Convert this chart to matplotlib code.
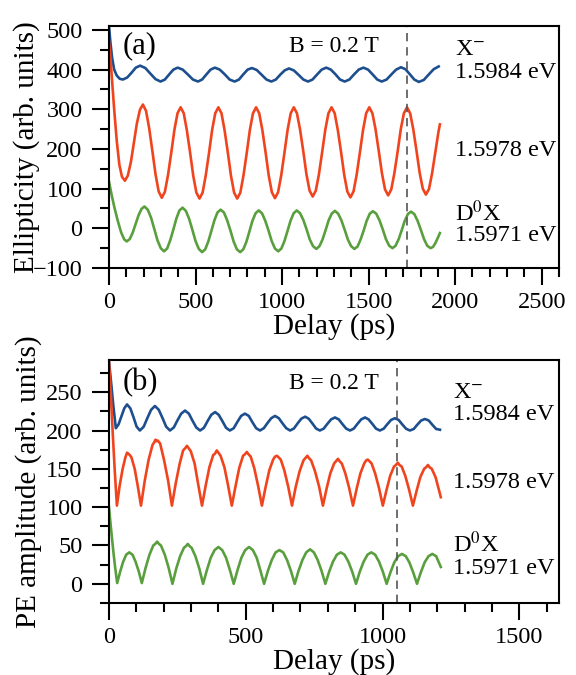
import numpy as np
import matplotlib
matplotlib.use("Agg")
import matplotlib.pyplot as plt
from matplotlib.ticker import MultipleLocator

plt.rcParams['font.family'] = ['Liberation Serif', 'DejaVu Serif']
plt.rcParams['mathtext.fontset'] = 'stix'

# ---- (a) ellipticity traces: (delay ps, signal) ----
a_trion = [(0, 510), (8, 470), (18, 430), (30, 400), (45, 385), (62, 377), (80, 375),
           (105, 380), (130, 392), (155, 405), (180, 410),
           (210, 404), (239, 390), (269, 376), (298, 370),
           (323, 375), (348, 388), (372, 400), (397, 405),
           (426, 400), (455, 388), (485, 375), (514, 370),
           (538, 375), (563, 388), (587, 400), (612, 405),
           (640, 400), (669, 388), (697, 375), (726, 370),
           (751, 375), (776, 388), (801, 400), (826, 404),
           (854, 399), (882, 387), (910, 375), (938, 370),
           (964, 375), (989, 387), (1015, 398), (1040, 403),
           (1068, 398), (1095, 387), (1123, 375), (1150, 370),
           (1176, 375), (1203, 388), (1229, 400), (1255, 405),
           (1282, 400), (1309, 388), (1335, 375), (1362, 370),
           (1389, 375), (1416, 388), (1443, 400), (1470, 405),
           (1497, 400), (1523, 388), (1550, 375), (1576, 370),
           (1604, 375), (1632, 388), (1659, 400), (1687, 406),
           (1713, 401), (1739, 388), (1764, 375), (1790, 369),
           (1819, 374), (1848, 388), (1876, 401), (1905, 408)]

a_mid = [(0, 470), (10, 420), (20, 360), (30, 300), (45, 220), (60, 160), (75, 130), (92, 120),
         (109, 133), (127, 168), (144, 216), (161, 264), (179, 299), (196, 312),
         (214, 296), (232, 253), (251, 194), (269, 136), (287, 93), (305, 77),
         (323, 92), (341, 134), (360, 191), (378, 248), (396, 290), (414, 305),
         (432, 290), (450, 247), (469, 190), (487, 132), (505, 90), (523, 75),
         (541, 90), (559, 133), (578, 190), (596, 248), (614, 290), (632, 305),
         (650, 290), (668, 247), (687, 190), (705, 132), (723, 90), (741, 75),
         (759, 90), (777, 133), (796, 190), (814, 248), (832, 290), (850, 305),
         (868, 290), (886, 248), (905, 191), (923, 133), (941, 91), (959, 76),
         (977, 91), (995, 133), (1014, 191), (1032, 248), (1050, 290), (1068, 305),
         (1086, 290), (1104, 249), (1123, 193), (1141, 136), (1159, 95), (1177, 80),
         (1195, 95), (1213, 136), (1232, 193), (1250, 249), (1268, 290), (1286, 305),
         (1304, 290), (1322, 248), (1341, 192), (1359, 135), (1377, 93), (1395, 78),
         (1413, 93), (1431, 135), (1450, 192), (1468, 248), (1486, 290), (1504, 305),
         (1522, 290), (1540, 250), (1559, 194), (1577, 139), (1595, 98), (1613, 83),
         (1631, 98), (1649, 139), (1668, 194), (1686, 250), (1704, 290), (1722, 305),
         (1740, 290), (1758, 250), (1777, 195), (1795, 140), (1813, 100), (1831, 85),
         (1849, 99), (1867, 139), (1886, 193), (1904, 244), (1912, 262)]

a_donor = [(0, 118), (15, 85), (30, 55), (50, 20), (70, -10), (88, -28), (103, -33),
           (120, -27), (137, -11), (154, 11), (171, 33), (188, 49), (205, 55),
           (224, 47), (243, 27), (262, -2), (280, -30), (299, -50), (318, -58),
           (336, -51), (354, -30), (372, -3), (389, 24), (407, 45), (425, 52),
           (444, 44), (463, 24), (482, -4), (500, -32), (519, -52), (538, -60),
           (556, -53), (574, -33), (592, -6), (609, 20), (627, 40), (645, 47),
           (664, 40), (683, 20), (702, -6), (720, -33), (739, -53), (758, -60),
           (776, -53), (794, -34), (812, -7), (829, 19), (847, 38), (865, 45),
           (884, 38), (903, 19), (922, -6), (940, -32), (959, -51), (978, -58),
           (996, -51), (1014, -32), (1032, -6), (1049, 19), (1067, 38), (1085, 45),
           (1104, 38), (1123, 21), (1142, -3), (1160, -28), (1179, -45), (1198, -52),
           (1216, -45), (1234, -28), (1252, -4), (1269, 20), (1287, 37), (1305, 44),
           (1324, 37), (1343, 20), (1362, -4), (1380, -28), (1399, -45), (1418, -52),
           (1436, -46), (1454, -28), (1472, -5), (1489, 19), (1507, 37), (1525, 43),
           (1544, 37), (1563, 20), (1582, -3), (1600, -27), (1619, -44), (1638, -50),
           (1656, -44), (1674, -27), (1692, -4), (1709, 19), (1727, 36), (1745, 42),
           (1764, 36), (1783, 19), (1802, -4), (1820, -27), (1839, -44), (1858, -50),
           (1872, -47), (1885, -38), (1898, -26), (1912, -12)]

# ---- (b) photon echo amplitude traces ----
b_trion = [(0, 290), (8, 262), (16, 232), (25, 203),
           (35, 208), (45, 218), (56, 229), (66, 234),
           (78, 229), (90, 217), (101, 205), (113, 200),
           (127, 205), (140, 216), (154, 227), (168, 232),
           (182, 227), (196, 216), (209, 205), (223, 200),
           (237, 204), (250, 213), (264, 222), (278, 226),
           (292, 222), (305, 213), (319, 204), (333, 200),
           (347, 203.5), (360, 212), (374, 220.5), (388, 224),
           (401, 220.5), (415, 212), (428, 203.5), (442, 200),
           (456, 203), (469, 211), (483, 219), (497, 222),
           (511, 219), (524, 211), (538, 203), (552, 200),
           (566, 203), (579, 209.5), (593, 216), (607, 219),
           (621, 216), (634, 209.5), (648, 203), (662, 200),
           (676, 202.6), (689, 209), (703, 215.4), (717, 218),
           (730, 215.4), (744, 209), (757, 202.6), (771, 200),
           (785, 202.5), (798, 208.5), (812, 214.5), (826, 217),
           (840, 214.5), (853, 208.5), (867, 202.5), (881, 200),
           (895, 202.5), (908, 208.5), (922, 214.5), (936, 217),
           (949, 214.5), (963, 208.5), (976, 202.5), (990, 200),
           (1004, 202.3), (1017, 208), (1031, 213.7), (1045, 216),
           (1059, 213.7), (1072, 208), (1086, 202.3), (1100, 200),
           (1114, 202), (1127, 207.5), (1141, 213), (1155, 215),
           (1169, 213), (1182, 207.5), (1196, 202), (1210, 201)]

b_mid = [(0, 290), (7, 245), (14, 195), (21, 148), (29, 102),
         (39, 128), (50, 150), (60, 165), (66, 171), (70, 170),
         (76, 168), (82, 165), (94, 150), (105, 128), (117, 102),
         (131, 135), (145, 162), (159, 181), (166, 185), (170, 188), (173, 186),
         (178, 187), (187, 183), (201, 162), (216, 135), (230, 102),
         (244, 131), (258, 156), (271, 174), (279, 177), (285, 180),
         (291, 177), (299, 173), (313, 157), (326, 130), (340, 102),
         (354, 129), (367, 152), (381, 168), (388, 170), (394, 174),
         (400, 171), (408, 167), (422, 152), (435, 129), (449, 102),
         (463, 128), (476, 151), (490, 167), (497, 169), (504, 172),
         (510, 169), (518, 166), (531, 151), (545, 128), (559, 102),
         (573, 127), (586, 148), (600, 162), (607, 166), (614, 167),
         (620, 165), (628, 162), (641, 148), (655, 127), (669, 102),
         (683, 127), (697, 147), (711, 161), (718, 164), (725, 167),
         (731, 164), (739, 161), (753, 147), (768, 127), (782, 102),
         (796, 125), (809, 144), (823, 157), (830, 160), (837, 163),
         (843, 160), (851, 157), (864, 144), (878, 125), (892, 102),
         (906, 125), (919, 144), (933, 157), (940, 161), (946, 162),
         (952, 160), (960, 157), (973, 144), (987, 125), (1001, 102),
         (1015, 123), (1028, 141), (1042, 153), (1049, 155), (1056, 158),
         (1062, 155), (1070, 153), (1083, 141), (1097, 123), (1111, 102),
         (1125, 122), (1138, 139), (1152, 150), (1159, 152), (1166, 155),
         (1172, 152), (1180, 150), (1194, 139), (1213, 113)]

b_donor = [(0, 100), (8, 70), (16, 42), (23, 20), (30, 1),
           (41, 16), (52, 29), (63, 38), (74, 41),
           (86, 38), (97, 29), (109, 16), (120, 1),
           (134, 21), (148, 38), (162, 50), (169, 52), (176, 55),
           (183, 52), (190, 50), (204, 38), (218, 21), (232, 0),
           (246, 20), (260, 36), (274, 47), (281, 49), (288, 52),
           (295, 49), (302, 47), (316, 36), (330, 20), (344, 0),
           (358, 18), (372, 34), (386, 44), (393, 46), (400, 48),
           (407, 46), (414, 44), (428, 34), (442, 18), (456, 0),
           (470, 18), (484, 34), (498, 44), (505, 46), (512, 48),
           (519, 46), (526, 44), (540, 34), (553, 18), (567, 0),
           (581, 17), (595, 31), (609, 41), (623, 44),
           (637, 41), (651, 31), (665, 17), (679, 0),
           (693, 17), (707, 31), (721, 41), (728, 43), (735, 45),
           (742, 43), (749, 41), (763, 31), (777, 17), (791, 0),
           (805, 16), (819, 29), (833, 38), (847, 41),
           (861, 38), (875, 29), (889, 16), (903, 0),
           (917, 16), (931, 29), (945, 38), (959, 41),
           (973, 38), (987, 29), (1001, 16), (1015, 0),
           (1029, 15), (1043, 28), (1057, 36), (1071, 39),
           (1085, 36), (1098, 28), (1112, 15), (1126, 0),
           (1140, 15), (1154, 28), (1168, 36), (1182, 39),
           (1196, 36), (1213, 22)]

blue = '#1d4f8f'
red = '#f0441f'
green = '#5a9f3e'

fig = plt.figure(figsize=(5.76, 6.75), dpi=100)
ax_a = fig.add_axes([0.1892, 0.6030, 0.78125, 0.3585])
ax_b = fig.add_axes([0.1892, 0.1067, 0.78125, 0.3600])


def draw(ax, traces):
    for pts, col in traces:
        arr = np.array(pts, dtype=float)
        ax.plot(arr[:, 0], arr[:, 1], color=col, lw=1.9, solid_joinstyle='round')


def style(ax):
    for sp in ax.spines.values():
        sp.set_linewidth(1.5)
    ax.tick_params(which='major', direction='out', length=12, width=1.5,
                   labelsize=17.5, pad=5, top=False, right=False)
    ax.tick_params(which='minor', direction='out', length=6.5, width=1.5,
                   top=False, right=False)
    ax.tick_params(axis='y', which='major', pad=7)


# ---- panel (a) ----
draw(ax_a, [(a_trion, blue), (a_mid, red), (a_donor, green)])
ax_a.set_xlim(0, 2600)
ax_a.set_ylim(-100, 510)
ax_a.xaxis.set_major_locator(MultipleLocator(500))
ax_a.xaxis.set_minor_locator(MultipleLocator(100))
ax_a.yaxis.set_major_locator(MultipleLocator(100))
ax_a.yaxis.set_minor_locator(MultipleLocator(50))
ax_a.axvline(1722, color='#555555', lw=1.2, dashes=(5, 3.5))
style(ax_a)
ax_a.set_xlabel('Delay (ps)', fontsize=21, labelpad=0)
ax_a.set_ylabel('Ellipticity (arb. units)', fontsize=21, labelpad=-5)
ax_a.text(0.03, 0.917, '(a)', transform=ax_a.transAxes, fontsize=22, va='center')
ax_a.text(0.5, 0.917, 'B = 0.2 T', transform=ax_a.transAxes, fontsize=17, va='center', ha='center')
ax_a.text(2000, 450, r'X$^{-}$', fontsize=17.5, va='center')
ax_a.text(2000, 392, '1.5984 eV', fontsize=17.5, va='center')
ax_a.text(2000, 195, '1.5978 eV', fontsize=17.5, va='center')
ax_a.text(2000, 37, r'D$^{0}$X', fontsize=17.5, va='center')
ax_a.text(2000, -18, '1.5971 eV', fontsize=17.5, va='center')

# ---- panel (b) ----
draw(ax_b, [(b_trion, blue), (b_mid, red), (b_donor, green)])
ax_b.set_xlim(0, 1645)
ax_b.set_ylim(-25, 292)
ax_b.xaxis.set_major_locator(MultipleLocator(500))
ax_b.xaxis.set_minor_locator(MultipleLocator(100))
ax_b.yaxis.set_major_locator(MultipleLocator(50))
ax_b.yaxis.set_minor_locator(MultipleLocator(25))
ax_b.axvline(1052, color='#555555', lw=1.2, dashes=(5, 3.5))
style(ax_b)
ax_b.set_xlabel('Delay (ps)', fontsize=21, labelpad=0)
ax_b.set_ylabel('PE amplitude (arb. units)', fontsize=21, labelpad=3)
ax_b.text(0.03, 0.905, '(b)', transform=ax_b.transAxes, fontsize=22, va='center')
ax_b.text(0.5, 0.905, 'B = 0.2 T', transform=ax_b.transAxes, fontsize=17, va='center', ha='center')
ax_b.text(1257, 249, r'X$^{-}$', fontsize=17.5, va='center')
ax_b.text(1257, 221, '1.5984 eV', fontsize=17.5, va='center')
ax_b.text(1257, 132, '1.5978 eV', fontsize=17.5, va='center')
ax_b.text(1257, 51, r'D$^{0}$X', fontsize=17.5, va='center')
ax_b.text(1257, 20, '1.5971 eV', fontsize=17.5, va='center')

fig.savefig('out.png', dpi=100)
